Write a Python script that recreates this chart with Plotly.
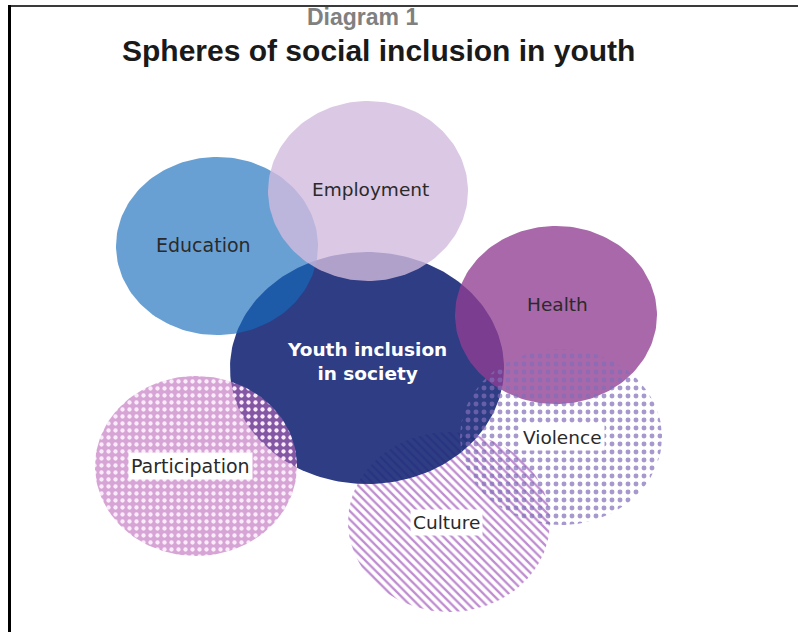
import numpy as np
import plotly.graph_objects as go

# Spheres (drawn in this order, bottom to top)
spheres = ["Culture", "Youth inclusion<br>in society", "Education", "Employment", "Health",
           "Participation", "Violence"]
center_x = [449, 367, 217, 368, 556, 196, 561]
center_y = [522, 368, 246, 191, 315, 466, 437]
radius_x = [101, 137, 101, 100, 101, 101, 101]
radius_y = [90, 116, 89, 90, 89, 90, 88]
label_x = [446, 367, 203, 370, 557, 190, 562]
label_y = [522, 361, 245, 189, 304, 466, 437]

fills = [
    dict(fillcolor="rgba(0,0,0,0)",
         fillpattern=dict(shape="\\", bgcolor="rgba(0,0,0,0)", fgcolor="rgb(190,140,208)",
                          fgopacity=1, size=6, solidity=0.38)),
    dict(fillcolor="rgba(28,44,122,0.92)"),
    dict(fillcolor="rgba(21,107,188,0.64)"),
    dict(fillcolor="rgba(209,186,221,0.8)"),
    dict(fillcolor="rgba(144,62,146,0.78)"),
    dict(fillcolor="rgba(0,0,0,0)",
         fillpattern=dict(shape=".", bgcolor="rgba(188,105,185,0.6)", fgcolor="rgb(250,235,250)",
                          fgopacity=1, size=7, solidity=0.3)),
    dict(fillcolor="rgba(0,0,0,0)",
         fillpattern=dict(shape=".", bgcolor="rgba(0,0,0,0)", fgcolor="rgb(130,110,185)",
                          fgopacity=0.7, size=8, solidity=0.3)),
]
label_style = [
    dict(color="#2a2a2a", size=18.5, bold=False, bg="white"),
    dict(color="white", size=18.5, bold=True, bg=None),
    dict(color="#2a2a2a", size=19, bold=False, bg=None),
    dict(color="#2a2a2a", size=18.5, bold=False, bg=None),
    dict(color="#2a2a2a", size=18.5, bold=False, bg=None),
    dict(color="#2a2a2a", size=19, bold=False, bg="white"),
    dict(color="#2a2a2a", size=18.5, bold=False, bg="white"),
]

t = np.linspace(0, 2 * np.pi, 181)
fig = go.Figure()
for i, name in enumerate(spheres):
    xs = center_x[i] + radius_x[i] * np.cos(t)
    ys = center_y[i] + radius_y[i] * np.sin(t)
    fig.add_trace(go.Scatter(x=xs, y=ys, mode="lines", fill="toself",
                             line=dict(width=0, color="rgba(0,0,0,0)"),
                             hoverinfo="skip", showlegend=False, **fills[i]))

for i, name in enumerate(spheres):
    st = label_style[i]
    txt = f"<b>{name}</b>" if st["bold"] else name
    ann = dict(x=label_x[i], y=label_y[i], xref="x", yref="y", text=txt, showarrow=False,
               font=dict(family="DejaVu Sans, sans-serif", size=st["size"], color=st["color"]))
    if st["bg"]:
        ann.update(bgcolor=st["bg"], borderpad=2)
    fig.add_annotation(**ann)

# Titles
fig.add_annotation(x=362, y=17, xref="x", yref="y", text="<b>Diagram 1</b>", showarrow=False,
                   font=dict(family="Liberation Sans, Arial, sans-serif", size=23, color="#808080"))
fig.add_annotation(x=378, y=50, xref="x", yref="y", text="<b>Spheres of social inclusion in youth</b>",
                   showarrow=False,
                   font=dict(family="Liberation Sans, Arial, sans-serif", size=30, color="#1a1a1a"))

# Frame lines
fig.add_shape(type="line", xref="paper", yref="paper", x0=9 / 798, x1=1, y0=1 - 6 / 632, y1=1 - 6 / 632,
              line=dict(color="#3a3a3a", width=2))
fig.add_shape(type="line", xref="paper", yref="paper", x0=9.5 / 798, x1=9.5 / 798, y0=0, y1=1 - 5 / 632,
              line=dict(color="black", width=3))

fig.update_layout(
    width=798, height=632, margin=dict(l=0, r=0, t=0, b=0),
    paper_bgcolor="white", plot_bgcolor="white",
    xaxis=dict(range=[0, 798], visible=False, fixedrange=True),
    yaxis=dict(range=[632, 0], visible=False, fixedrange=True),
)
fig.write_html("out.html", config={"displayModeBar": False},
               post_script="document.body.style.margin='0px';document.body.style.overflow='hidden';")
